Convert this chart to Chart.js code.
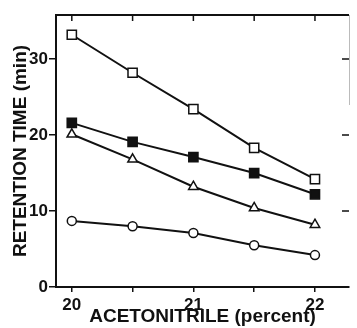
<!DOCTYPE html>
<html lang="en">
<head>
    <meta charset="UTF-8">
    <title>Retention time vs acetonitrile</title>
    <style>
      body { margin: 0; background: #fff; }
    </style>
</head>
<body>
    <canvas id="myChart" width="357" height="328"></canvas>

    <script src="https://cdn.jsdelivr.net/npm/chart.js"></script>
    <script>
      // values
      const acetonitrile = [20, 20.5, 21, 21.5, 22];
      const openSquare   = [33.2, 28.2, 23.4, 18.3, 14.2];
      const filledSquare = [21.6, 19.1, 17.1, 15.0, 12.2];
      const openTriangle = [20.1, 16.8, 13.2, 10.4, 8.2];
      const openCircle   = [8.7, 8.0, 7.1, 5.5, 4.2];

      const xTicks = [20, 21, 22];
      const yTicks = [0, 10, 20, 30];

      const pts = (vals) => acetonitrile.map((x, i) => ({ x: x, y: vals[i] }));

      const ink = '#111';
      const fontFam = '"Liberation Sans", Arial, sans-serif';

      // top border + inward ticks on the top and right side
      const frame = {
        id: 'frame',
        afterDraw(chart) {
          const { ctx, chartArea: a, scales: { x, y } } = chart;
          ctx.save();
          ctx.strokeStyle = ink;
          ctx.lineWidth = 2;
          ctx.beginPath();
          ctx.moveTo(a.left - 1, a.top);
          ctx.lineTo(a.right, a.top);
          ctx.stroke();
          ctx.lineWidth = 1.5;
          ctx.beginPath();
          x.ticks.forEach(t => {
            const px = x.getPixelForValue(t.value);
            ctx.moveTo(px, a.top);
            ctx.lineTo(px, a.top + 6);
          });
          y.ticks.forEach(t => {
            if (t.value === 0) return;
            const py = y.getPixelForValue(t.value);
            ctx.moveTo(a.right - 7, py);
            ctx.lineTo(a.right, py);
          });
          ctx.stroke();
          ctx.strokeStyle = '#bbb';
          ctx.lineWidth = 1;
          ctx.beginPath();
          ctx.moveTo(a.right + 0.5, a.top);
          ctx.lineTo(a.right + 0.5, a.top + 90);
          ctx.stroke();
          ctx.restore();
        }
      };

      const marker = (style, radius, fill) => ({
        pointStyle: style,
        pointRadius: radius,
        pointHoverRadius: radius,
        pointBackgroundColor: fill,
        pointBorderColor: ink,
        pointBorderWidth: 1.5,
        borderColor: ink,
        borderWidth: 2,
        showLine: true,
        tension: 0
      });

      new Chart(document.getElementById('myChart'), {
        type: 'scatter',
        data: {
          datasets: [
            { data: pts(openCircle), ...marker('circle', 4.5, '#fff') },
            { data: pts(openTriangle), ...marker('triangle', 5.5, '#fff') },
            { data: pts(filledSquare), ...marker('rect', 6.5, ink) },
            { data: pts(openSquare), ...marker('rect', 6.5, '#fff') }
          ]
        },
        options: {
          responsive: false,
          animation: false,
          layout: { padding: { top: 15, right: 1, left: 0, bottom: 0 } },
          plugins: { legend: { display: false }, tooltip: { enabled: false } },
          scales: {
            x: {
              type: 'linear',
              min: 19.87,
              max: 22.28,
              afterFit(s) { s.height = 41; },
              border: { color: ink, width: 2 },
              grid: { drawOnChartArea: false, color: ink, lineWidth: 1.5, tickLength: 5 },
              ticks: {
                stepSize: 0.5,
                includeBounds: false,
                autoSkip: false,
                maxRotation: 0,
                padding: 3,
                color: ink,
                font: { family: fontFam, size: 17, weight: 'bold' },
                callback: (v) => xTicks.includes(v) ? String(v) : ''
              },
              title: {
                display: true,
                text: 'ACETONITRILE (percent)',
                color: ink,
                padding: { top: 0, bottom: 0 },
                font: { family: fontFam, size: 19, weight: 'bold' }
              }
            },
            y: {
              min: 0,
              max: 35.8,
              afterFit(s) { s.width = 56; },
              border: { color: ink, width: 2 },
              grid: { drawOnChartArea: false, color: ink, lineWidth: 1.5, tickLength: 7 },
              ticks: {
                stepSize: 10,
                includeBounds: false,
                padding: 1,
                color: ink,
                font: { family: fontFam, size: 17, weight: 'bold' },
                callback: (v) => yTicks.includes(v) ? String(v) : ''
              },
              title: {
                display: true,
                text: 'RETENTION TIME (min)',
                color: ink,
                padding: { top: 9, bottom: 0 },
                font: { family: fontFam, size: 19, weight: 'bold' }
              }
            }
          }
        },
        plugins: [frame]
      });
    </script>
</body>
</html>
